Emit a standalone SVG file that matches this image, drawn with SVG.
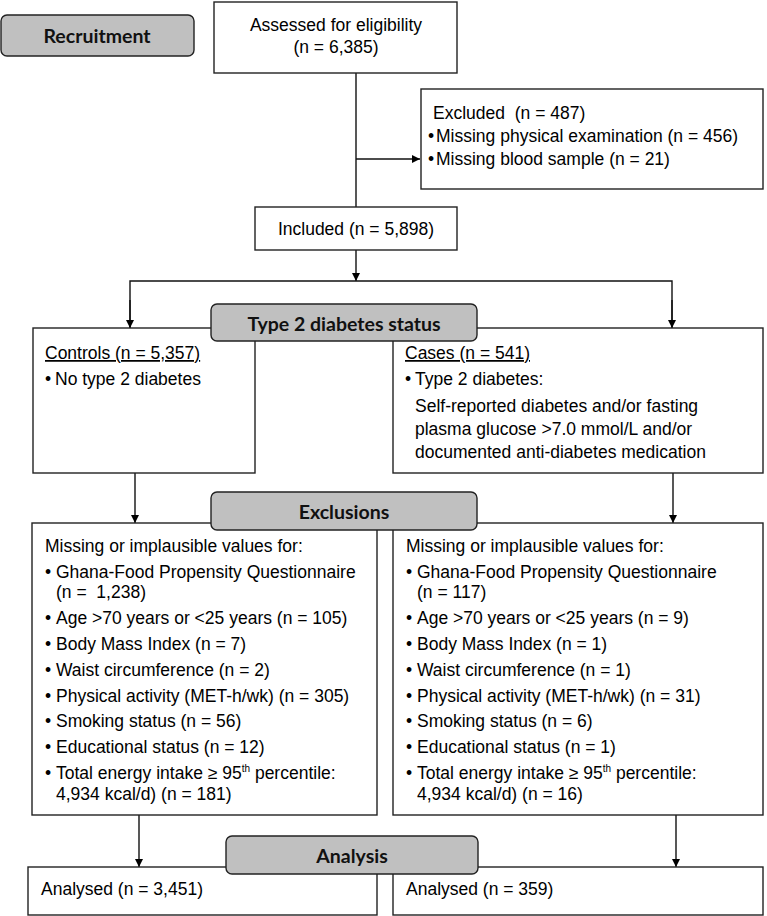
<svg xmlns="http://www.w3.org/2000/svg" width="767" height="916" viewBox="0 0 767 916">
<defs>
<marker id="ah" viewBox="0 0 10 10" refX="10" refY="5" markerWidth="8" markerHeight="8" markerUnits="userSpaceOnUse" orient="auto"><path d="M0,0 L10,5 L0,10 z" fill="#000"/></marker>
</defs>
<style>
.box{fill:#fff;stroke:#222;stroke-width:1.4}
.lab{fill:#c0c0c0;stroke:#222;stroke-width:1.4}
.t{font-family:"Liberation Sans",Arial,sans-serif;font-size:17.5px;fill:#000;white-space:pre}
.b{font-family:Lato,"Open Sans",sans-serif;font-weight:bold;font-size:19.5px;fill:#111;text-anchor:middle}
.c{fill:none;stroke:#111;stroke-width:1.4}
.m{text-anchor:middle}
</style>
<rect width="767" height="916" fill="#fff"/>
<g id="connectors">
<path class="c" d="M356,73 V207"/>
<path class="c" d="M356,159 H420" marker-end="url(#ah)"/>
<path class="c" d="M356,250 V281" marker-end="url(#ah)"/>
<path class="c" d="M130,328 V281 H672 V328"/>
<path class="c" d="M130,300 V328" marker-end="url(#ah)"/>
<path class="c" d="M672,300 V328" marker-end="url(#ah)"/>
<path class="c" d="M135,473 V523" marker-end="url(#ah)"/>
<path class="c" d="M673,473 V523" marker-end="url(#ah)"/>
<path class="c" d="M139,815 V867" marker-end="url(#ah)"/>
<path class="c" d="M676,815 V867" marker-end="url(#ah)"/>
</g>
<g id="recruitment"><rect class="lab" x="1" y="15" width="193" height="41" rx="6"/><text class="b" x="97" y="43">Recruitment</text></g>
<g id="assessed"><rect class="box" x="214" y="2" width="243" height="71"/><text class="t m" x="336" y="31">Assessed for eligibility</text><text class="t m" x="336" y="53">(n = 6,385)</text></g>
<g id="excluded"><rect class="box" x="421" y="89" width="342" height="100"/>
<text class="t" x="433" y="119">Excluded  (n = 487)</text>
<text class="t" x="428" y="142">•<tspan x="436">Missing physical examination (n = 456)</tspan></text>
<text class="t" x="428" y="165">•<tspan x="436">Missing blood sample (n = 21)</tspan></text></g>
<g id="included"><rect class="box" x="255" y="207" width="202" height="43"/><text class="t m" x="356" y="235">Included (n = 5,898)</text></g>
<g id="controls"><rect class="box" x="33" y="328" width="222" height="145"/>
<text class="t" x="45" y="359" text-decoration="underline">Controls (n = 5,357)</text>
<text class="t" x="45" y="385">•<tspan x="55">No type 2 diabetes</tspan></text></g>
<g id="cases"><rect class="box" x="393" y="328" width="370" height="145"/>
<text class="t" x="405" y="359" text-decoration="underline">Cases (n = 541)</text>
<text class="t" x="405" y="385">•<tspan x="415">Type 2 diabetes:</tspan></text>
<text class="t" x="415" y="412">Self-reported diabetes and/or fasting</text>
<text class="t" x="415" y="435">plasma glucose &gt;7.0 mmol/L and/or</text>
<text class="t" x="415" y="458">documented anti-diabetes medication</text></g>
<g id="t2status"><rect class="lab" x="211" y="304" width="266" height="37" rx="6"/><text class="b" x="344" y="331">Type 2 diabetes status</text></g>
<g id="excl-left"><rect class="box" x="32" y="523" width="345" height="292"/>
<text class="t" x="45" y="552">Missing or implausible values for:</text>
<text class="t" x="45" y="578">•<tspan x="56">Ghana-Food Propensity Questionnaire</tspan></text>
<text class="t" x="56" y="598">(n =  1,238)</text>
<text class="t" x="45" y="624">•<tspan x="56">Age &gt;70 years or &lt;25 years (n = 105)</tspan></text>
<text class="t" x="45" y="650">•<tspan x="56">Body Mass Index (n = 7)</tspan></text>
<text class="t" x="45" y="676">•<tspan x="56">Waist circumference (n = 2)</tspan></text>
<text class="t" x="45" y="702">•<tspan x="56">Physical activity (MET-h/wk) (n = 305)</tspan></text>
<text class="t" x="45" y="727">•<tspan x="56">Smoking status (n = 56)</tspan></text>
<text class="t" x="45" y="753">•<tspan x="56">Educational status (n = 12)</tspan></text>
<text class="t" x="45" y="779">•<tspan x="56">Total energy intake ≥ 95</tspan><tspan font-size="10" dy="-7">th</tspan><tspan dy="7"> percentile:</tspan></text>
<text class="t" x="56" y="800">4,934 kcal/d) (n = 181)</text></g>
<g id="excl-right"><rect class="box" x="393" y="523" width="370" height="292"/>
<text class="t" x="406" y="552">Missing or implausible values for:</text>
<text class="t" x="406" y="578">•<tspan x="417">Ghana-Food Propensity Questionnaire</tspan></text>
<text class="t" x="417" y="598">(n = 117)</text>
<text class="t" x="406" y="624">•<tspan x="417">Age &gt;70 years or &lt;25 years (n = 9)</tspan></text>
<text class="t" x="406" y="650">•<tspan x="417">Body Mass Index (n = 1)</tspan></text>
<text class="t" x="406" y="676">•<tspan x="417">Waist circumference (n = 1)</tspan></text>
<text class="t" x="406" y="702">•<tspan x="417">Physical activity (MET-h/wk) (n = 31)</tspan></text>
<text class="t" x="406" y="727">•<tspan x="417">Smoking status (n = 6)</tspan></text>
<text class="t" x="406" y="753">•<tspan x="417">Educational status (n = 1)</tspan></text>
<text class="t" x="406" y="779">•<tspan x="417">Total energy intake ≥ 95</tspan><tspan font-size="10" dy="-7">th</tspan><tspan dy="7"> percentile:</tspan></text>
<text class="t" x="417" y="800">4,934 kcal/d) (n = 16)</text></g>
<g id="exclusions"><rect class="lab" x="211" y="492" width="266" height="38" rx="6"/><text class="b" x="344" y="519">Exclusions</text></g>
<g id="analysed-left"><rect class="box" x="28" y="867" width="349" height="48"/><text class="t" x="41" y="895">Analysed (n = 3,451)</text></g>
<g id="analysed-right"><rect class="box" x="393" y="867" width="370" height="48"/><text class="t" x="406" y="895">Analysed (n = 359)</text></g>
<g id="analysis"><rect class="lab" x="226" y="836" width="252" height="38" rx="6"/><text class="b" x="352" y="863">Analysis</text></g>
</svg>
